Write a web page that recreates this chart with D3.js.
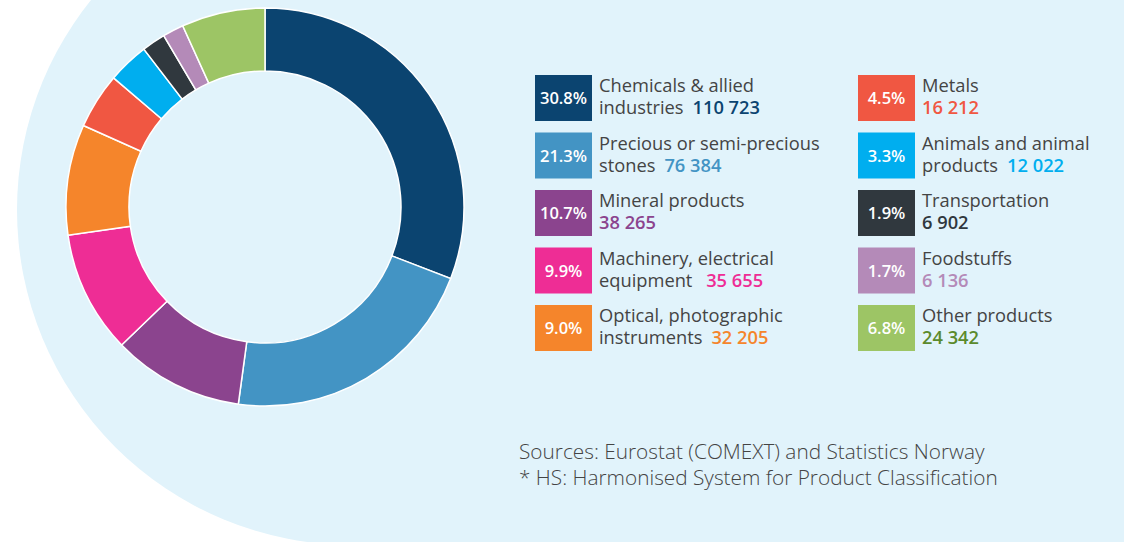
<!DOCTYPE html>
<html>
<head>
<meta charset="utf-8">
<script src="https://cdn.jsdelivr.net/npm/d3@7"></script>
<style>
  body { margin: 0; background: #fff; }
  svg { display: block; font-family: "Open Sans", sans-serif; }
</style>
</head>
<body>
<svg width="1124" height="542"></svg>
<script>
// chart data
const categories = ["Chemicals & allied industries", "Precious or semi-precious stones", "Mineral products",
  "Machinery, electrical equipment", "Optical, photographic instruments", "Metals",
  "Animals and animal products", "Transportation", "Foodstuffs", "Other products"]
const values = [110723, 76384, 38265, 35655, 32205, 16212, 12022, 6902, 6136, 24342]
const percents = ["30.8%", "21.3%", "10.7%", "9.9%", "9.0%", "4.5%", "3.3%", "1.9%", "1.7%", "6.8%"]
const labelLines = [
  ["Chemicals & allied", "industries"],
  ["Precious or semi-precious", "stones"],
  ["Mineral products", ""],
  ["Machinery, electrical", "equipment "],
  ["Optical, photographic", "instruments"],
  ["Metals", ""],
  ["Animals and animal", "products"],
  ["Transportation", ""],
  ["Foodstuffs", ""],
  ["Other products", ""]
]
const colors = ["#0b4470", "#4394c4", "#8b448e", "#ee2d95", "#f5852b",
  "#f05742", "#00aeef", "#30383e", "#b48ab8", "#9dc565"]
const numColors = ["#0b4470", "#4394c4", "#8b448e", "#ee2d95", "#f5852b",
  "#f05742", "#00aeef", "#30383e", "#b48ab8", "#5b8a2c"]
const notes = ["Sources: Eurostat (COMEXT) and Statistics Norway",
  "* HS: Harmonised System for Product Classification"]

const svg = d3.select("svg")
const fmt = d3.formatLocale({decimal: ".", thousands: " ", grouping: [3], currency: ["", ""]}).format(",d")

// pale backdrop: circle on the left, flat to the right
const bg = svg.append("g").attr("fill", "#e1f3fb")
bg.append("circle")
  .attr("cx", 352).attr("cy", 210).attr("r", 335)
bg.append("rect")
  .attr("x", 352).attr("y", 0).attr("width", 772).attr("height", 542)

// donut
const pie = d3.pie().sort(null).value(d => d)
const arc = d3.arc().innerRadius(136).outerRadius(199)

const donut = svg.append("g").attr("transform", "translate(265,207)")
donut.selectAll("path")
  .data(pie(values))
  .enter().append("path")
  .attr("d", arc)
  .attr("fill", (d, i) => colors[i])
  .attr("stroke", "#fff")
  .attr("stroke-width", 1.5)

// legend
const rows = d3.scaleLinear().domain([0, 4]).range([75, 305])
const cols = [535, 858]
const legend = svg.append("g")

const item = legend.selectAll("g")
  .data(categories)
  .enter().append("g")
  .attr("transform", (d, i) => `translate(${cols[Math.floor(i / 5)]},${rows(i % 5)})`)

item.append("rect")
  .attr("width", 57).attr("height", 46)
  .attr("fill", (d, i) => colors[i])

item.append("text")
  .attr("x", 28.5).attr("y", 29)
  .attr("text-anchor", "middle")
  .attr("fill", "#fff")
  .attr("font-size", 16.5)
  .attr("font-weight", 600)
  .text((d, i) => percents[i])

const label = item.append("text")
  .attr("font-size", 18.3)
  .attr("fill", "#444")

label.append("tspan")
  .attr("x", 64).attr("y", 17)
  .text((d, i) => labelLines[i][0])

label.filter((d, i) => labelLines[i][1]).append("tspan")
  .attr("x", 64).attr("y", 39)
  .text(d => labelLines[categories.indexOf(d)][1])

label.append("tspan")
  .each(function(d) {
    const i = categories.indexOf(d)
    if (labelLines[i][1]) d3.select(this).attr("dx", 9)
    else d3.select(this).attr("x", 64).attr("y", 39)
  })
  .attr("font-weight", 600)
  .attr("fill", d => numColors[categories.indexOf(d)])
  .text(d => fmt(values[categories.indexOf(d)]))

// sources
svg.append("g").selectAll("text")
  .data(notes)
  .enter().append("text")
  .attr("x", 519)
  .attr("y", (d, i) => 459 + i * 26)
  .attr("font-size", 20.8)
  .attr("font-weight", 300)
  .attr("fill", "#444")
  .text(d => d)
</script>
</body>
</html>
